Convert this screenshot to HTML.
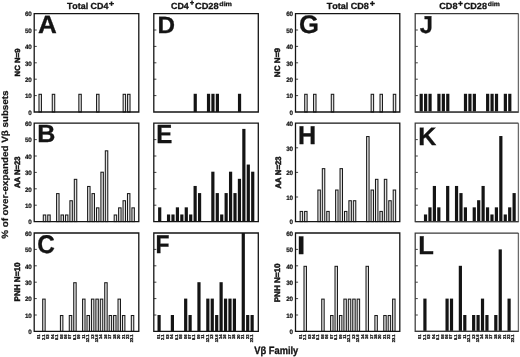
<!DOCTYPE html>
<html><head><meta charset="utf-8"><title>Figure</title>
<style>
html,body{margin:0;padding:0;background:#fff;}
body{width:520px;height:357px;overflow:hidden;}
svg{display:block;filter:grayscale(1);}
text{font-family:"Liberation Sans", sans-serif;fill:#141414;text-rendering:geometricPrecision;}
.yt{font-size:12.6px;font-weight:bold;text-anchor:end;letter-spacing:-0.5px;stroke:#141414;stroke-width:0.4px;}
.pl{font-size:25px;font-weight:bold;stroke:#141414;stroke-width:0.3px;}
.xt{font-size:4.1px;font-weight:bold;text-anchor:end;stroke:#141414;stroke-width:0.3px;}
.ft{font-weight:bold;stroke:#141414;font-kerning:none;}
</style></head>
<body>
<svg width="520" height="357" viewBox="0 0 520 357">
<rect width="520" height="357" fill="#fff"/>
<rect x="38.98" y="94.3" width="2.45" height="17.7" fill="#e4e4e4" stroke="#1a1a1a" stroke-width="1.05"/>
<rect x="52.27" y="94.3" width="2.45" height="17.7" fill="#e4e4e4" stroke="#1a1a1a" stroke-width="1.05"/>
<rect x="78.84" y="94.3" width="2.45" height="17.7" fill="#e4e4e4" stroke="#1a1a1a" stroke-width="1.05"/>
<rect x="96.56" y="94.3" width="2.45" height="17.7" fill="#e4e4e4" stroke="#1a1a1a" stroke-width="1.05"/>
<rect x="123.14" y="94.3" width="2.45" height="17.7" fill="#e4e4e4" stroke="#1a1a1a" stroke-width="1.05"/>
<rect x="127.58" y="94.3" width="2.45" height="17.7" fill="#e4e4e4" stroke="#1a1a1a" stroke-width="1.05"/>
<line x1="34.2" y1="95.6" x2="36.8" y2="95.6" stroke="#141414" stroke-width="0.8"/>
<line x1="34.2" y1="79.2" x2="36.8" y2="79.2" stroke="#141414" stroke-width="0.8"/>
<line x1="34.2" y1="62.8" x2="36.8" y2="62.8" stroke="#141414" stroke-width="0.8"/>
<line x1="34.2" y1="46.4" x2="36.8" y2="46.4" stroke="#141414" stroke-width="0.8"/>
<line x1="34.2" y1="30" x2="36.8" y2="30" stroke="#141414" stroke-width="0.8"/>
<path d="M34.2 13.6 H138.8 V112 H34.2 Z" fill="none" stroke="#141414" stroke-width="1.3"/>
<text class="yt" transform="translate(31.5 114.8) scale(0.5)">0</text>
<text class="yt" transform="translate(31.5 98.4) scale(0.5)">10</text>
<text class="yt" transform="translate(31.5 82) scale(0.5)">20</text>
<text class="yt" transform="translate(31.5 65.6) scale(0.5)">30</text>
<text class="yt" transform="translate(31.5 49.2) scale(0.5)">40</text>
<text class="yt" transform="translate(31.5 32.8) scale(0.5)">50</text>
<text class="yt" transform="translate(31.5 16.4) scale(0.5)">60</text>
<text class="pl" transform="translate(37.94 32.50) scale(1.043 1.000)">A</text>
<rect x="193.64" y="93.78" width="3.2" height="18.22" fill="#141414"/>
<rect x="206.93" y="93.78" width="3.2" height="18.22" fill="#141414"/>
<rect x="211.36" y="93.78" width="3.2" height="18.22" fill="#141414"/>
<rect x="215.79" y="93.78" width="3.2" height="18.22" fill="#141414"/>
<rect x="237.94" y="93.78" width="3.2" height="18.22" fill="#141414"/>
<line x1="153.8" y1="95.6" x2="156.4" y2="95.6" stroke="#141414" stroke-width="0.8"/>
<line x1="153.8" y1="79.2" x2="156.4" y2="79.2" stroke="#141414" stroke-width="0.8"/>
<line x1="153.8" y1="62.8" x2="156.4" y2="62.8" stroke="#141414" stroke-width="0.8"/>
<line x1="153.8" y1="46.4" x2="156.4" y2="46.4" stroke="#141414" stroke-width="0.8"/>
<line x1="153.8" y1="30" x2="156.4" y2="30" stroke="#141414" stroke-width="0.8"/>
<path d="M153.8 13.6 H258.3 V112 H153.8 Z" fill="none" stroke="#141414" stroke-width="1.3"/>
<text class="pl" transform="translate(157.41 32.61) scale(0.972 0.943)">D</text>
<rect x="304.7" y="94.3" width="2.45" height="17.7" fill="#e4e4e4" stroke="#1a1a1a" stroke-width="1.05"/>
<rect x="313.56" y="94.3" width="2.45" height="17.7" fill="#e4e4e4" stroke="#1a1a1a" stroke-width="1.05"/>
<rect x="331.28" y="94.3" width="2.45" height="17.7" fill="#e4e4e4" stroke="#1a1a1a" stroke-width="1.05"/>
<rect x="371.15" y="94.3" width="2.45" height="17.7" fill="#e4e4e4" stroke="#1a1a1a" stroke-width="1.05"/>
<rect x="380.01" y="94.3" width="2.45" height="17.7" fill="#e4e4e4" stroke="#1a1a1a" stroke-width="1.05"/>
<rect x="393.3" y="94.3" width="2.45" height="17.7" fill="#e4e4e4" stroke="#1a1a1a" stroke-width="1.05"/>
<line x1="295.5" y1="95.6" x2="298.1" y2="95.6" stroke="#141414" stroke-width="0.8"/>
<line x1="295.5" y1="79.2" x2="298.1" y2="79.2" stroke="#141414" stroke-width="0.8"/>
<line x1="295.5" y1="62.8" x2="298.1" y2="62.8" stroke="#141414" stroke-width="0.8"/>
<line x1="295.5" y1="46.4" x2="298.1" y2="46.4" stroke="#141414" stroke-width="0.8"/>
<line x1="295.5" y1="30" x2="298.1" y2="30" stroke="#141414" stroke-width="0.8"/>
<path d="M295.5 13.6 H399.8 V112 H295.5 Z" fill="none" stroke="#141414" stroke-width="1.3"/>
<text class="yt" transform="translate(292.8 114.8) scale(0.5)">0</text>
<text class="yt" transform="translate(292.8 98.4) scale(0.5)">10</text>
<text class="yt" transform="translate(292.8 82) scale(0.5)">20</text>
<text class="yt" transform="translate(292.8 65.6) scale(0.5)">30</text>
<text class="yt" transform="translate(292.8 49.2) scale(0.5)">40</text>
<text class="yt" transform="translate(292.8 32.8) scale(0.5)">50</text>
<text class="yt" transform="translate(292.8 16.4) scale(0.5)">60</text>
<text class="pl" transform="translate(299.06 33.06) scale(1.025 1.022)">G</text>
<rect x="419.6" y="93.78" width="3.2" height="18.22" fill="#141414"/>
<rect x="424.03" y="93.78" width="3.2" height="18.22" fill="#141414"/>
<rect x="428.46" y="93.78" width="3.2" height="18.22" fill="#141414"/>
<rect x="437.32" y="93.78" width="3.2" height="18.22" fill="#141414"/>
<rect x="441.75" y="93.78" width="3.2" height="18.22" fill="#141414"/>
<rect x="446.18" y="93.78" width="3.2" height="18.22" fill="#141414"/>
<rect x="463.9" y="93.78" width="3.2" height="18.22" fill="#141414"/>
<rect x="468.33" y="93.78" width="3.2" height="18.22" fill="#141414"/>
<rect x="472.76" y="93.78" width="3.2" height="18.22" fill="#141414"/>
<rect x="486.05" y="93.78" width="3.2" height="18.22" fill="#141414"/>
<rect x="490.48" y="93.78" width="3.2" height="18.22" fill="#141414"/>
<rect x="494.91" y="93.78" width="3.2" height="18.22" fill="#141414"/>
<rect x="503.77" y="93.78" width="3.2" height="18.22" fill="#141414"/>
<rect x="508.2" y="93.78" width="3.2" height="18.22" fill="#141414"/>
<line x1="415.2" y1="95.6" x2="417.8" y2="95.6" stroke="#141414" stroke-width="0.8"/>
<line x1="415.2" y1="79.2" x2="417.8" y2="79.2" stroke="#141414" stroke-width="0.8"/>
<line x1="415.2" y1="62.8" x2="417.8" y2="62.8" stroke="#141414" stroke-width="0.8"/>
<line x1="415.2" y1="46.4" x2="417.8" y2="46.4" stroke="#141414" stroke-width="0.8"/>
<line x1="415.2" y1="30" x2="417.8" y2="30" stroke="#141414" stroke-width="0.8"/>
<path d="M518.4 13.6 V112 H415.2" fill="none" stroke="#6a6a6a" stroke-width="1.3"/>
<path d="M518.4 13.6 H415.2 M415.2 13 V112 H518.4" fill="none" stroke="#3a3a3a" stroke-width="1.25"/>
<text class="pl" transform="translate(419.64 33.43) scale(0.949 0.975)">J</text>
<rect x="43.3" y="214.99" width="2.45" height="6.61" fill="#e4e4e4" stroke="#1a1a1a" stroke-width="1.05"/>
<rect x="47.73" y="214.99" width="2.45" height="6.61" fill="#e4e4e4" stroke="#1a1a1a" stroke-width="1.05"/>
<rect x="56.59" y="193.6" width="2.45" height="28" fill="#e4e4e4" stroke="#1a1a1a" stroke-width="1.05"/>
<rect x="61.02" y="214.99" width="2.45" height="6.61" fill="#e4e4e4" stroke="#1a1a1a" stroke-width="1.05"/>
<rect x="65.46" y="214.99" width="2.45" height="6.61" fill="#e4e4e4" stroke="#1a1a1a" stroke-width="1.05"/>
<rect x="69.89" y="200.73" width="2.45" height="20.87" fill="#e4e4e4" stroke="#1a1a1a" stroke-width="1.05"/>
<rect x="74.31" y="179.34" width="2.45" height="42.26" fill="#e4e4e4" stroke="#1a1a1a" stroke-width="1.05"/>
<rect x="87.61" y="186.47" width="2.45" height="35.13" fill="#e4e4e4" stroke="#1a1a1a" stroke-width="1.05"/>
<rect x="92.03" y="193.6" width="2.45" height="28" fill="#e4e4e4" stroke="#1a1a1a" stroke-width="1.05"/>
<rect x="96.47" y="207.86" width="2.45" height="13.74" fill="#e4e4e4" stroke="#1a1a1a" stroke-width="1.05"/>
<rect x="100.9" y="172.21" width="2.45" height="49.39" fill="#e4e4e4" stroke="#1a1a1a" stroke-width="1.05"/>
<rect x="105.32" y="150.82" width="2.45" height="70.78" fill="#e4e4e4" stroke="#1a1a1a" stroke-width="1.05"/>
<rect x="114.19" y="214.99" width="2.45" height="6.61" fill="#e4e4e4" stroke="#1a1a1a" stroke-width="1.05"/>
<rect x="118.62" y="207.86" width="2.45" height="13.74" fill="#e4e4e4" stroke="#1a1a1a" stroke-width="1.05"/>
<rect x="123.04" y="200.73" width="2.45" height="20.87" fill="#e4e4e4" stroke="#1a1a1a" stroke-width="1.05"/>
<rect x="127.47" y="193.6" width="2.45" height="28" fill="#e4e4e4" stroke="#1a1a1a" stroke-width="1.05"/>
<rect x="131.91" y="207.86" width="2.45" height="13.74" fill="#e4e4e4" stroke="#1a1a1a" stroke-width="1.05"/>
<line x1="34.2" y1="205.2" x2="36.8" y2="205.2" stroke="#141414" stroke-width="0.8"/>
<line x1="34.2" y1="188.8" x2="36.8" y2="188.8" stroke="#141414" stroke-width="0.8"/>
<line x1="34.2" y1="172.4" x2="36.8" y2="172.4" stroke="#141414" stroke-width="0.8"/>
<line x1="34.2" y1="156" x2="36.8" y2="156" stroke="#141414" stroke-width="0.8"/>
<line x1="34.2" y1="139.6" x2="36.8" y2="139.6" stroke="#141414" stroke-width="0.8"/>
<path d="M34.2 123.2 H138.8 V221.6 H34.2 Z" fill="none" stroke="#141414" stroke-width="1.3"/>
<text class="yt" transform="translate(31.5 224.4) scale(0.5)">0</text>
<text class="yt" transform="translate(31.5 208) scale(0.5)">10</text>
<text class="yt" transform="translate(31.5 191.6) scale(0.5)">20</text>
<text class="yt" transform="translate(31.5 175.2) scale(0.5)">30</text>
<text class="yt" transform="translate(31.5 158.8) scale(0.5)">40</text>
<text class="yt" transform="translate(31.5 142.4) scale(0.5)">50</text>
<text class="yt" transform="translate(31.5 126) scale(0.5)">60</text>
<text class="pl" transform="translate(37.16 142.45) scale(1.003 0.994)">B</text>
<rect x="158.1" y="207.34" width="3.2" height="14.26" fill="#141414"/>
<rect x="166.96" y="214.47" width="3.2" height="7.13" fill="#141414"/>
<rect x="171.39" y="214.47" width="3.2" height="7.13" fill="#141414"/>
<rect x="175.82" y="207.34" width="3.2" height="14.26" fill="#141414"/>
<rect x="180.25" y="214.47" width="3.2" height="7.13" fill="#141414"/>
<rect x="184.68" y="207.34" width="3.2" height="14.26" fill="#141414"/>
<rect x="189.11" y="214.47" width="3.2" height="7.13" fill="#141414"/>
<rect x="193.54" y="185.95" width="3.2" height="35.65" fill="#141414"/>
<rect x="197.97" y="193.08" width="3.2" height="28.52" fill="#141414"/>
<rect x="211.26" y="171.69" width="3.2" height="49.91" fill="#141414"/>
<rect x="215.69" y="193.08" width="3.2" height="28.52" fill="#141414"/>
<rect x="220.12" y="214.47" width="3.2" height="7.13" fill="#141414"/>
<rect x="224.55" y="193.08" width="3.2" height="28.52" fill="#141414"/>
<rect x="228.98" y="171.69" width="3.2" height="49.91" fill="#141414"/>
<rect x="233.41" y="193.08" width="3.2" height="28.52" fill="#141414"/>
<rect x="237.84" y="178.82" width="3.2" height="42.78" fill="#141414"/>
<rect x="242.27" y="128.9" width="3.2" height="92.7" fill="#141414"/>
<rect x="246.7" y="164.56" width="3.2" height="57.04" fill="#141414"/>
<rect x="251.13" y="171.69" width="3.2" height="49.91" fill="#141414"/>
<line x1="153.8" y1="205.2" x2="156.4" y2="205.2" stroke="#141414" stroke-width="0.8"/>
<line x1="153.8" y1="188.8" x2="156.4" y2="188.8" stroke="#141414" stroke-width="0.8"/>
<line x1="153.8" y1="172.4" x2="156.4" y2="172.4" stroke="#141414" stroke-width="0.8"/>
<line x1="153.8" y1="156" x2="156.4" y2="156" stroke="#141414" stroke-width="0.8"/>
<line x1="153.8" y1="139.6" x2="156.4" y2="139.6" stroke="#141414" stroke-width="0.8"/>
<path d="M153.8 123.2 H258.3 V221.6 H153.8 Z" fill="none" stroke="#141414" stroke-width="1.3"/>
<text class="pl" transform="translate(156.15 143.24) scale(0.963 1.051)">E</text>
<rect x="300.17" y="211.43" width="2.45" height="10.17" fill="#e4e4e4" stroke="#1a1a1a" stroke-width="1.05"/>
<rect x="304.6" y="211.43" width="2.45" height="10.17" fill="#e4e4e4" stroke="#1a1a1a" stroke-width="1.05"/>
<rect x="317.89" y="190.04" width="2.45" height="31.56" fill="#e4e4e4" stroke="#1a1a1a" stroke-width="1.05"/>
<rect x="322.32" y="168.65" width="2.45" height="52.95" fill="#e4e4e4" stroke="#1a1a1a" stroke-width="1.05"/>
<rect x="326.75" y="211.43" width="2.45" height="10.17" fill="#e4e4e4" stroke="#1a1a1a" stroke-width="1.05"/>
<rect x="335.61" y="190.04" width="2.45" height="31.56" fill="#e4e4e4" stroke="#1a1a1a" stroke-width="1.05"/>
<rect x="340.04" y="168.65" width="2.45" height="52.95" fill="#e4e4e4" stroke="#1a1a1a" stroke-width="1.05"/>
<rect x="344.47" y="211.43" width="2.45" height="10.17" fill="#e4e4e4" stroke="#1a1a1a" stroke-width="1.05"/>
<rect x="348.9" y="200.73" width="2.45" height="20.87" fill="#e4e4e4" stroke="#1a1a1a" stroke-width="1.05"/>
<rect x="353.33" y="200.73" width="2.45" height="20.87" fill="#e4e4e4" stroke="#1a1a1a" stroke-width="1.05"/>
<rect x="366.62" y="136.56" width="2.45" height="85.04" fill="#e4e4e4" stroke="#1a1a1a" stroke-width="1.05"/>
<rect x="371.05" y="190.04" width="2.45" height="31.56" fill="#e4e4e4" stroke="#1a1a1a" stroke-width="1.05"/>
<rect x="375.48" y="179.34" width="2.45" height="42.26" fill="#e4e4e4" stroke="#1a1a1a" stroke-width="1.05"/>
<rect x="379.91" y="211.43" width="2.45" height="10.17" fill="#e4e4e4" stroke="#1a1a1a" stroke-width="1.05"/>
<rect x="384.34" y="179.34" width="2.45" height="42.26" fill="#e4e4e4" stroke="#1a1a1a" stroke-width="1.05"/>
<rect x="388.77" y="200.73" width="2.45" height="20.87" fill="#e4e4e4" stroke="#1a1a1a" stroke-width="1.05"/>
<rect x="393.2" y="190.04" width="2.45" height="31.56" fill="#e4e4e4" stroke="#1a1a1a" stroke-width="1.05"/>
<line x1="295.5" y1="197" x2="298.1" y2="197" stroke="#141414" stroke-width="0.8"/>
<line x1="295.5" y1="172.4" x2="298.1" y2="172.4" stroke="#141414" stroke-width="0.8"/>
<line x1="295.5" y1="147.8" x2="298.1" y2="147.8" stroke="#141414" stroke-width="0.8"/>
<path d="M295.5 123.2 H399.8 V221.6 H295.5 Z" fill="none" stroke="#141414" stroke-width="1.3"/>
<text class="yt" transform="translate(292.8 224.4) scale(0.5)">0</text>
<text class="yt" transform="translate(292.8 199.8) scale(0.5)">10</text>
<text class="yt" transform="translate(292.8 175.2) scale(0.5)">20</text>
<text class="yt" transform="translate(292.8 150.6) scale(0.5)">30</text>
<text class="yt" transform="translate(292.8 126) scale(0.5)">40</text>
<text class="pl" transform="translate(297.91 143.85) scale(1.007 1.029)">H</text>
<rect x="423.93" y="214.47" width="3.2" height="7.13" fill="#141414"/>
<rect x="428.36" y="207.34" width="3.2" height="14.26" fill="#141414"/>
<rect x="432.79" y="185.95" width="3.2" height="35.65" fill="#141414"/>
<rect x="437.22" y="207.34" width="3.2" height="14.26" fill="#141414"/>
<rect x="446.08" y="185.95" width="3.2" height="35.65" fill="#141414"/>
<rect x="454.94" y="185.95" width="3.2" height="35.65" fill="#141414"/>
<rect x="459.37" y="193.08" width="3.2" height="28.52" fill="#141414"/>
<rect x="463.8" y="207.34" width="3.2" height="14.26" fill="#141414"/>
<rect x="472.66" y="207.34" width="3.2" height="14.26" fill="#141414"/>
<rect x="477.09" y="200.21" width="3.2" height="21.39" fill="#141414"/>
<rect x="481.52" y="185.95" width="3.2" height="35.65" fill="#141414"/>
<rect x="485.95" y="207.34" width="3.2" height="14.26" fill="#141414"/>
<rect x="490.38" y="214.47" width="3.2" height="7.13" fill="#141414"/>
<rect x="494.81" y="207.34" width="3.2" height="14.26" fill="#141414"/>
<rect x="499.24" y="136.03" width="3.2" height="85.57" fill="#141414"/>
<rect x="503.67" y="214.47" width="3.2" height="7.13" fill="#141414"/>
<rect x="508.1" y="207.34" width="3.2" height="14.26" fill="#141414"/>
<rect x="512.53" y="193.08" width="3.2" height="28.52" fill="#141414"/>
<line x1="415.2" y1="205.2" x2="417.8" y2="205.2" stroke="#141414" stroke-width="0.8"/>
<line x1="415.2" y1="188.8" x2="417.8" y2="188.8" stroke="#141414" stroke-width="0.8"/>
<line x1="415.2" y1="172.4" x2="417.8" y2="172.4" stroke="#141414" stroke-width="0.8"/>
<line x1="415.2" y1="156" x2="417.8" y2="156" stroke="#141414" stroke-width="0.8"/>
<line x1="415.2" y1="139.6" x2="417.8" y2="139.6" stroke="#141414" stroke-width="0.8"/>
<path d="M518.4 123.2 V221.6 H415.2" fill="none" stroke="#6a6a6a" stroke-width="1.3"/>
<path d="M518.4 123.2 H415.2 M415.2 122.6 V221.6 H518.4" fill="none" stroke="#3a3a3a" stroke-width="1.25"/>
<text class="pl" transform="translate(418.28 144.65) scale(1.003 1.006)">K</text>
<rect x="42.7" y="299.12" width="2.45" height="32.27" fill="#e4e4e4" stroke="#1a1a1a" stroke-width="1.05"/>
<rect x="60.42" y="315.52" width="2.45" height="15.87" fill="#e4e4e4" stroke="#1a1a1a" stroke-width="1.05"/>
<rect x="69.28" y="315.52" width="2.45" height="15.87" fill="#e4e4e4" stroke="#1a1a1a" stroke-width="1.05"/>
<rect x="73.72" y="282.72" width="2.45" height="48.67" fill="#e4e4e4" stroke="#1a1a1a" stroke-width="1.05"/>
<rect x="82.58" y="299.12" width="2.45" height="32.27" fill="#e4e4e4" stroke="#1a1a1a" stroke-width="1.05"/>
<rect x="87" y="315.52" width="2.45" height="15.87" fill="#e4e4e4" stroke="#1a1a1a" stroke-width="1.05"/>
<rect x="91.44" y="299.12" width="2.45" height="32.27" fill="#e4e4e4" stroke="#1a1a1a" stroke-width="1.05"/>
<rect x="95.87" y="299.12" width="2.45" height="32.27" fill="#e4e4e4" stroke="#1a1a1a" stroke-width="1.05"/>
<rect x="100.3" y="299.12" width="2.45" height="32.27" fill="#e4e4e4" stroke="#1a1a1a" stroke-width="1.05"/>
<rect x="104.72" y="282.72" width="2.45" height="48.67" fill="#e4e4e4" stroke="#1a1a1a" stroke-width="1.05"/>
<rect x="109.16" y="315.52" width="2.45" height="15.87" fill="#e4e4e4" stroke="#1a1a1a" stroke-width="1.05"/>
<rect x="113.59" y="315.52" width="2.45" height="15.87" fill="#e4e4e4" stroke="#1a1a1a" stroke-width="1.05"/>
<rect x="118.02" y="299.12" width="2.45" height="32.27" fill="#e4e4e4" stroke="#1a1a1a" stroke-width="1.05"/>
<rect x="122.44" y="315.52" width="2.45" height="15.87" fill="#e4e4e4" stroke="#1a1a1a" stroke-width="1.05"/>
<rect x="131.31" y="315.52" width="2.45" height="15.87" fill="#e4e4e4" stroke="#1a1a1a" stroke-width="1.05"/>
<line x1="34.2" y1="315" x2="36.8" y2="315" stroke="#141414" stroke-width="0.8"/>
<line x1="34.2" y1="298.6" x2="36.8" y2="298.6" stroke="#141414" stroke-width="0.8"/>
<line x1="34.2" y1="282.2" x2="36.8" y2="282.2" stroke="#141414" stroke-width="0.8"/>
<line x1="34.2" y1="265.8" x2="36.8" y2="265.8" stroke="#141414" stroke-width="0.8"/>
<line x1="34.2" y1="249.4" x2="36.8" y2="249.4" stroke="#141414" stroke-width="0.8"/>
<path d="M34.2 233 H138.8 V331.4 H34.2 Z" fill="none" stroke="#141414" stroke-width="1.3"/>
<text class="yt" transform="translate(31.5 334.2) scale(0.5)">0</text>
<text class="yt" transform="translate(31.5 317.8) scale(0.5)">10</text>
<text class="yt" transform="translate(31.5 301.4) scale(0.5)">20</text>
<text class="yt" transform="translate(31.5 285) scale(0.5)">30</text>
<text class="yt" transform="translate(31.5 268.6) scale(0.5)">40</text>
<text class="yt" transform="translate(31.5 252.2) scale(0.5)">50</text>
<text class="yt" transform="translate(31.5 235.8) scale(0.5)">60</text>
<text class="pl" transform="translate(37.30 253.47) scale(0.973 1.028)">C</text>
<text class="xt" transform="translate(40.4 334.4) rotate(-90)">01</text>
<text class="xt" transform="translate(44.83 334.4) rotate(-90)">2.1</text>
<text class="xt" transform="translate(49.26 334.4) rotate(-90)">03</text>
<text class="xt" transform="translate(53.69 334.4) rotate(-90)">04</text>
<text class="xt" transform="translate(58.12 334.4) rotate(-90)">5.1</text>
<text class="xt" transform="translate(62.55 334.4) rotate(-90)">05</text>
<text class="xt" transform="translate(66.98 334.4) rotate(-90)">06</text>
<text class="xt" transform="translate(71.41 334.4) rotate(-90)">07</text>
<text class="xt" transform="translate(75.84 334.4) rotate(-90)">8.1</text>
<text class="xt" transform="translate(80.27 334.4) rotate(-90)">09</text>
<text class="xt" transform="translate(84.7 334.4) rotate(-90)">11</text>
<text class="xt" transform="translate(89.13 334.4) rotate(-90)">12.1</text>
<text class="xt" transform="translate(93.56 334.4) rotate(-90)">13</text>
<text class="xt" transform="translate(97.99 334.4) rotate(-90)">13.6</text>
<text class="xt" transform="translate(102.42 334.4) rotate(-90)">14</text>
<text class="xt" transform="translate(106.85 334.4) rotate(-90)">16</text>
<text class="xt" transform="translate(111.28 334.4) rotate(-90)">17</text>
<text class="xt" transform="translate(115.71 334.4) rotate(-90)">18</text>
<text class="xt" transform="translate(120.14 334.4) rotate(-90)">20</text>
<text class="xt" transform="translate(124.57 334.4) rotate(-90)">21</text>
<text class="xt" transform="translate(129 334.4) rotate(-90)">22</text>
<text class="xt" transform="translate(133.43 334.4) rotate(-90)">23.1</text>
<rect x="157.5" y="315" width="3.2" height="16.4" fill="#141414"/>
<rect x="170.79" y="315" width="3.2" height="16.4" fill="#141414"/>
<rect x="184.08" y="298.6" width="3.2" height="32.8" fill="#141414"/>
<rect x="188.51" y="315" width="3.2" height="16.4" fill="#141414"/>
<rect x="197.37" y="282.2" width="3.2" height="49.2" fill="#141414"/>
<rect x="206.23" y="298.6" width="3.2" height="32.8" fill="#141414"/>
<rect x="210.66" y="298.6" width="3.2" height="32.8" fill="#141414"/>
<rect x="215.09" y="315" width="3.2" height="16.4" fill="#141414"/>
<rect x="219.52" y="282.2" width="3.2" height="49.2" fill="#141414"/>
<rect x="223.95" y="298.6" width="3.2" height="32.8" fill="#141414"/>
<rect x="228.38" y="298.6" width="3.2" height="32.8" fill="#141414"/>
<rect x="232.81" y="298.6" width="3.2" height="32.8" fill="#141414"/>
<rect x="241.67" y="233" width="3.2" height="98.4" fill="#141414"/>
<rect x="246.1" y="315" width="3.2" height="16.4" fill="#141414"/>
<rect x="250.53" y="315" width="3.2" height="16.4" fill="#141414"/>
<line x1="153.8" y1="315" x2="156.4" y2="315" stroke="#141414" stroke-width="0.8"/>
<line x1="153.8" y1="298.6" x2="156.4" y2="298.6" stroke="#141414" stroke-width="0.8"/>
<line x1="153.8" y1="282.2" x2="156.4" y2="282.2" stroke="#141414" stroke-width="0.8"/>
<line x1="153.8" y1="265.8" x2="156.4" y2="265.8" stroke="#141414" stroke-width="0.8"/>
<line x1="153.8" y1="249.4" x2="156.4" y2="249.4" stroke="#141414" stroke-width="0.8"/>
<path d="M153.8 233 H258.3 V331.4 H153.8 Z" fill="none" stroke="#141414" stroke-width="1.3"/>
<text class="pl" transform="translate(155.59 253.45) scale(0.917 1.029)">F</text>
<text class="xt" transform="translate(160 334.4) rotate(-90)">01</text>
<text class="xt" transform="translate(164.43 334.4) rotate(-90)">2.1</text>
<text class="xt" transform="translate(168.86 334.4) rotate(-90)">03</text>
<text class="xt" transform="translate(173.29 334.4) rotate(-90)">04</text>
<text class="xt" transform="translate(177.72 334.4) rotate(-90)">5.1</text>
<text class="xt" transform="translate(182.15 334.4) rotate(-90)">05</text>
<text class="xt" transform="translate(186.58 334.4) rotate(-90)">06</text>
<text class="xt" transform="translate(191.01 334.4) rotate(-90)">07</text>
<text class="xt" transform="translate(195.44 334.4) rotate(-90)">8.1</text>
<text class="xt" transform="translate(199.87 334.4) rotate(-90)">09</text>
<text class="xt" transform="translate(204.3 334.4) rotate(-90)">11</text>
<text class="xt" transform="translate(208.73 334.4) rotate(-90)">12.1</text>
<text class="xt" transform="translate(213.16 334.4) rotate(-90)">13</text>
<text class="xt" transform="translate(217.59 334.4) rotate(-90)">13.6</text>
<text class="xt" transform="translate(222.02 334.4) rotate(-90)">14</text>
<text class="xt" transform="translate(226.45 334.4) rotate(-90)">16</text>
<text class="xt" transform="translate(230.88 334.4) rotate(-90)">17</text>
<text class="xt" transform="translate(235.31 334.4) rotate(-90)">18</text>
<text class="xt" transform="translate(239.74 334.4) rotate(-90)">20</text>
<text class="xt" transform="translate(244.17 334.4) rotate(-90)">21</text>
<text class="xt" transform="translate(248.6 334.4) rotate(-90)">22</text>
<text class="xt" transform="translate(253.03 334.4) rotate(-90)">23.1</text>
<rect x="304" y="266.32" width="2.45" height="65.07" fill="#e4e4e4" stroke="#1a1a1a" stroke-width="1.05"/>
<rect x="321.72" y="299.12" width="2.45" height="32.27" fill="#e4e4e4" stroke="#1a1a1a" stroke-width="1.05"/>
<rect x="330.58" y="315.52" width="2.45" height="15.87" fill="#e4e4e4" stroke="#1a1a1a" stroke-width="1.05"/>
<rect x="335.01" y="266.32" width="2.45" height="65.07" fill="#e4e4e4" stroke="#1a1a1a" stroke-width="1.05"/>
<rect x="339.44" y="315.52" width="2.45" height="15.87" fill="#e4e4e4" stroke="#1a1a1a" stroke-width="1.05"/>
<rect x="343.88" y="299.12" width="2.45" height="32.27" fill="#e4e4e4" stroke="#1a1a1a" stroke-width="1.05"/>
<rect x="348.31" y="299.12" width="2.45" height="32.27" fill="#e4e4e4" stroke="#1a1a1a" stroke-width="1.05"/>
<rect x="352.74" y="299.12" width="2.45" height="32.27" fill="#e4e4e4" stroke="#1a1a1a" stroke-width="1.05"/>
<rect x="357.16" y="299.12" width="2.45" height="32.27" fill="#e4e4e4" stroke="#1a1a1a" stroke-width="1.05"/>
<rect x="366.02" y="266.32" width="2.45" height="65.07" fill="#e4e4e4" stroke="#1a1a1a" stroke-width="1.05"/>
<rect x="374.88" y="315.52" width="2.45" height="15.87" fill="#e4e4e4" stroke="#1a1a1a" stroke-width="1.05"/>
<rect x="383.75" y="315.52" width="2.45" height="15.87" fill="#e4e4e4" stroke="#1a1a1a" stroke-width="1.05"/>
<rect x="388.17" y="315.52" width="2.45" height="15.87" fill="#e4e4e4" stroke="#1a1a1a" stroke-width="1.05"/>
<rect x="392.61" y="299.12" width="2.45" height="32.27" fill="#e4e4e4" stroke="#1a1a1a" stroke-width="1.05"/>
<line x1="295.5" y1="315" x2="298.1" y2="315" stroke="#141414" stroke-width="0.8"/>
<line x1="295.5" y1="298.6" x2="298.1" y2="298.6" stroke="#141414" stroke-width="0.8"/>
<line x1="295.5" y1="282.2" x2="298.1" y2="282.2" stroke="#141414" stroke-width="0.8"/>
<line x1="295.5" y1="265.8" x2="298.1" y2="265.8" stroke="#141414" stroke-width="0.8"/>
<line x1="295.5" y1="249.4" x2="298.1" y2="249.4" stroke="#141414" stroke-width="0.8"/>
<path d="M295.5 233 H399.8 V331.4 H295.5 Z" fill="none" stroke="#141414" stroke-width="1.3"/>
<text class="yt" transform="translate(292.8 334.2) scale(0.5)">0</text>
<text class="yt" transform="translate(292.8 317.8) scale(0.5)">10</text>
<text class="yt" transform="translate(292.8 301.4) scale(0.5)">20</text>
<text class="yt" transform="translate(292.8 285) scale(0.5)">30</text>
<text class="yt" transform="translate(292.8 268.6) scale(0.5)">40</text>
<text class="yt" transform="translate(292.8 252.2) scale(0.5)">50</text>
<text class="yt" transform="translate(292.8 235.8) scale(0.5)">60</text>
<text class="pl" transform="translate(297.01 253.80) scale(1.179 1.023)">I</text>
<text class="xt" transform="translate(301.7 334.4) rotate(-90)">01</text>
<text class="xt" transform="translate(306.13 334.4) rotate(-90)">2.1</text>
<text class="xt" transform="translate(310.56 334.4) rotate(-90)">03</text>
<text class="xt" transform="translate(314.99 334.4) rotate(-90)">04</text>
<text class="xt" transform="translate(319.42 334.4) rotate(-90)">5.1</text>
<text class="xt" transform="translate(323.85 334.4) rotate(-90)">05</text>
<text class="xt" transform="translate(328.28 334.4) rotate(-90)">06</text>
<text class="xt" transform="translate(332.71 334.4) rotate(-90)">07</text>
<text class="xt" transform="translate(337.14 334.4) rotate(-90)">8.1</text>
<text class="xt" transform="translate(341.57 334.4) rotate(-90)">09</text>
<text class="xt" transform="translate(346 334.4) rotate(-90)">11</text>
<text class="xt" transform="translate(350.43 334.4) rotate(-90)">12.1</text>
<text class="xt" transform="translate(354.86 334.4) rotate(-90)">13</text>
<text class="xt" transform="translate(359.29 334.4) rotate(-90)">13.6</text>
<text class="xt" transform="translate(363.72 334.4) rotate(-90)">14</text>
<text class="xt" transform="translate(368.15 334.4) rotate(-90)">16</text>
<text class="xt" transform="translate(372.58 334.4) rotate(-90)">17</text>
<text class="xt" transform="translate(377.01 334.4) rotate(-90)">18</text>
<text class="xt" transform="translate(381.44 334.4) rotate(-90)">20</text>
<text class="xt" transform="translate(385.87 334.4) rotate(-90)">21</text>
<text class="xt" transform="translate(390.3 334.4) rotate(-90)">22</text>
<text class="xt" transform="translate(394.73 334.4) rotate(-90)">23.1</text>
<rect x="423.33" y="298.6" width="3.2" height="32.8" fill="#141414"/>
<rect x="445.48" y="298.6" width="3.2" height="32.8" fill="#141414"/>
<rect x="449.91" y="298.6" width="3.2" height="32.8" fill="#141414"/>
<rect x="458.77" y="265.8" width="3.2" height="65.6" fill="#141414"/>
<rect x="463.2" y="315" width="3.2" height="16.4" fill="#141414"/>
<rect x="472.06" y="315" width="3.2" height="16.4" fill="#141414"/>
<rect x="476.49" y="315" width="3.2" height="16.4" fill="#141414"/>
<rect x="480.92" y="298.6" width="3.2" height="32.8" fill="#141414"/>
<rect x="485.35" y="315" width="3.2" height="16.4" fill="#141414"/>
<rect x="494.21" y="315" width="3.2" height="16.4" fill="#141414"/>
<rect x="498.64" y="249.4" width="3.2" height="82" fill="#141414"/>
<rect x="507.5" y="298.6" width="3.2" height="32.8" fill="#141414"/>
<line x1="415.2" y1="315" x2="417.8" y2="315" stroke="#141414" stroke-width="0.8"/>
<line x1="415.2" y1="298.6" x2="417.8" y2="298.6" stroke="#141414" stroke-width="0.8"/>
<line x1="415.2" y1="282.2" x2="417.8" y2="282.2" stroke="#141414" stroke-width="0.8"/>
<line x1="415.2" y1="265.8" x2="417.8" y2="265.8" stroke="#141414" stroke-width="0.8"/>
<line x1="415.2" y1="249.4" x2="417.8" y2="249.4" stroke="#141414" stroke-width="0.8"/>
<path d="M518.4 233 V331.4 H415.2" fill="none" stroke="#6a6a6a" stroke-width="1.3"/>
<path d="M518.4 233 H415.2 M415.2 232.4 V331.4 H518.4" fill="none" stroke="#3a3a3a" stroke-width="1.25"/>
<text class="pl" transform="translate(418.29 254.29) scale(1.021 1.034)">L</text>
<text class="xt" transform="translate(421.4 334.4) rotate(-90)">01</text>
<text class="xt" transform="translate(425.83 334.4) rotate(-90)">2.1</text>
<text class="xt" transform="translate(430.26 334.4) rotate(-90)">03</text>
<text class="xt" transform="translate(434.69 334.4) rotate(-90)">04</text>
<text class="xt" transform="translate(439.12 334.4) rotate(-90)">5.1</text>
<text class="xt" transform="translate(443.55 334.4) rotate(-90)">05</text>
<text class="xt" transform="translate(447.98 334.4) rotate(-90)">06</text>
<text class="xt" transform="translate(452.41 334.4) rotate(-90)">07</text>
<text class="xt" transform="translate(456.84 334.4) rotate(-90)">8.1</text>
<text class="xt" transform="translate(461.27 334.4) rotate(-90)">09</text>
<text class="xt" transform="translate(465.7 334.4) rotate(-90)">11</text>
<text class="xt" transform="translate(470.13 334.4) rotate(-90)">12.1</text>
<text class="xt" transform="translate(474.56 334.4) rotate(-90)">13</text>
<text class="xt" transform="translate(478.99 334.4) rotate(-90)">13.6</text>
<text class="xt" transform="translate(483.42 334.4) rotate(-90)">14</text>
<text class="xt" transform="translate(487.85 334.4) rotate(-90)">16</text>
<text class="xt" transform="translate(492.28 334.4) rotate(-90)">17</text>
<text class="xt" transform="translate(496.71 334.4) rotate(-90)">18</text>
<text class="xt" transform="translate(501.14 334.4) rotate(-90)">20</text>
<text class="xt" transform="translate(505.57 334.4) rotate(-90)">21</text>
<text class="xt" transform="translate(510 334.4) rotate(-90)">22</text>
<text class="xt" transform="translate(514.43 334.4) rotate(-90)">23.1</text>
<text class="ft" style="font-size:8.00px;stroke-width:0.50px" transform="translate(20.37 76.48) rotate(-90) scale(0.977 0.933)">NC N=9</text>
<text class="ft" style="font-size:8.00px;stroke-width:0.50px" transform="translate(20.45 188.05) rotate(-90) scale(0.951 0.983)">AA N=23</text>
<text class="ft" style="font-size:8.00px;stroke-width:0.50px" transform="translate(20.45 301.49) rotate(-90) scale(1.011 1.016)">PNH N=10</text>
<text class="ft" style="font-size:8.00px;stroke-width:0.50px" transform="translate(280.45 77.19) rotate(-90) scale(1.016 0.983)">NC N=9</text>
<text class="ft" style="font-size:8.00px;stroke-width:0.50px" transform="translate(280.65 188.45) rotate(-90) scale(0.963 0.999)">AA N=23</text>
<text class="ft" style="font-size:8.00px;stroke-width:0.50px" transform="translate(280.35 302.29) rotate(-90) scale(1.011 0.999)">PNH N=10</text>
<text class="ft" style="font-size:9.60px;stroke-width:0.25px" transform="translate(8.28 238.82) rotate(-90) scale(1.023 0.948)">% of over-expanded Vβ subsets</text>
<text class="ft" style="font-size:9.40px;stroke-width:0.30px" transform="translate(66.94 9.11) scale(0.947 0.938)">Total CD4</text>
<text class="ft" style="font-size:7.60px;stroke-width:0.60px" transform="translate(109.08 5.62) scale(1.133 0.929)">+</text>
<text class="ft" style="font-size:9.40px;stroke-width:0.30px" transform="translate(170.98 9.16) scale(0.948 0.946)">CD4</text>
<text class="ft" style="font-size:7.60px;stroke-width:0.60px" transform="translate(189.88 5.32) scale(0.907 0.929)">+</text>
<text class="ft" style="font-size:9.40px;stroke-width:0.30px" transform="translate(194.97 9.16) scale(0.989 0.946)">CD28</text>
<text class="ft" style="font-size:7.00px;stroke-width:0.30px" transform="translate(219.26 5.61) scale(1.023 0.864)">dim</text>
<text class="ft" style="font-size:9.40px;stroke-width:0.30px" transform="translate(326.64 9.16) scale(0.966 0.946)">Total CD8</text>
<text class="ft" style="font-size:7.60px;stroke-width:0.60px" transform="translate(369.88 5.90) scale(1.065 0.989)">+</text>
<text class="ft" style="font-size:9.40px;stroke-width:0.30px" transform="translate(439.17 9.16) scale(0.977 0.946)">CD8</text>
<text class="ft" style="font-size:7.60px;stroke-width:0.60px" transform="translate(458.18 6.00) scale(0.997 1.009)">+</text>
<text class="ft" style="font-size:9.40px;stroke-width:0.30px" transform="translate(463.67 9.16) scale(0.972 0.946)">CD28</text>
<text class="ft" style="font-size:7.00px;stroke-width:0.30px" transform="translate(487.77 5.71) scale(0.973 0.864)">dim</text>
<text class="ft" style="font-size:9.40px;stroke-width:0.30px" transform="translate(254.29 354.03) scale(0.994 1.123)">Vβ Family</text>
</svg>
</body></html>
